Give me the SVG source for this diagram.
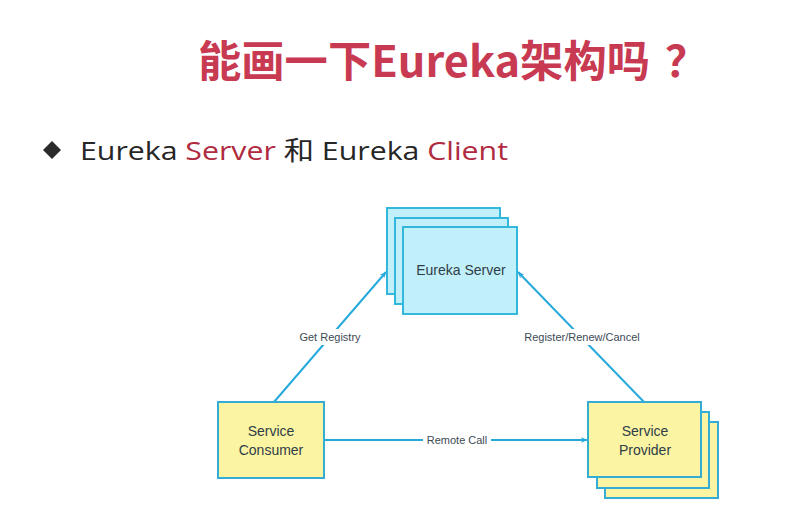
<svg xmlns="http://www.w3.org/2000/svg" width="806" height="507" viewBox="0 0 806 507">
<defs>
<marker id="arr" viewBox="0 0 10 10" refX="9" refY="5" markerWidth="7" markerHeight="7" orient="auto" markerUnits="userSpaceOnUse">
<path d="M0,1 L10,5 L0,9 L3,5 Z" fill="#27a9dc"/>
</marker>
<style>
.srv{fill:#c2f0fa;stroke:#33b7dc;stroke-width:2}
.yel{fill:#fbf4a2;stroke:#35acd4;stroke-width:2}
.lbl{font-family:"Liberation Sans",Arial,sans-serif;font-size:14px;fill:#2f3d48;text-anchor:middle}
.elbl{font-family:"Liberation Sans",Arial,sans-serif;font-size:11px;fill:#3c4a56;text-anchor:middle}
.edge{stroke:#27a9dc;stroke-width:2;fill:none;marker-end:url(#arr)}
.ttl{font-family:'Noto Sans CJK SC','Open Sans',sans-serif;font-weight:bold;font-size:43px;fill:#c83a52}
</style>
</defs>
<rect width="806" height="507" fill="#ffffff"/>
<text class="ttl" x="198" y="77" textLength="452" lengthAdjust="spacingAndGlyphs">能画一下Eureka架构吗</text>
<text class="ttl" x="665" y="77">？</text>
<path d="M52,141 L61,150 L52,159 L43,150 Z" fill="#2b2b2b"/>
<text x="80" y="160" font-family="'Open Sans','Noto Sans CJK SC',sans-serif" font-size="26" fill="#262626" textLength="428" lengthAdjust="spacingAndGlyphs">Eureka <tspan fill="#b02a40">Server</tspan> 和 Eureka <tspan fill="#b02a40">Client</tspan></text>
<g id="connectors">
<line class="edge" x1="274" y1="402" x2="386" y2="272"/>
<line class="edge" x1="644" y1="402" x2="518" y2="272"/>
<line class="edge" x1="324" y1="440" x2="587" y2="440"/>
<rect x="296" y="329" width="68" height="16" fill="#ffffff"/>
<text class="elbl" x="330" y="341">Get Registry</text>
<rect x="521" y="329" width="122" height="16" fill="#ffffff"/>
<text class="elbl" x="582" y="341">Register/Renew/Cancel</text>
<rect x="423" y="432" width="68" height="16" fill="#ffffff"/>
<text class="elbl" x="457" y="444">Remote Call</text>
</g>
<g id="eureka-server">
<rect class="srv" x="387" y="208" width="113" height="86"/>
<rect class="srv" x="395" y="218" width="113" height="86"/>
<rect class="srv" x="403" y="227" width="114" height="87"/>
<text class="lbl" x="461" y="275">Eureka Server</text>
</g>
<g id="service-consumer">
<rect class="yel" x="218" y="402" width="106" height="76"/>
<text class="lbl" x="271" y="436">Service</text>
<text class="lbl" x="271" y="455">Consumer</text>
</g>
<g id="service-provider">
<rect class="yel" x="605" y="422" width="113" height="76"/>
<rect class="yel" x="597" y="412" width="112" height="76"/>
<rect class="yel" x="588" y="402" width="113" height="75"/>
<text class="lbl" x="645" y="436">Service</text>
<text class="lbl" x="645" y="455">Provider</text>
</g>
</svg>
